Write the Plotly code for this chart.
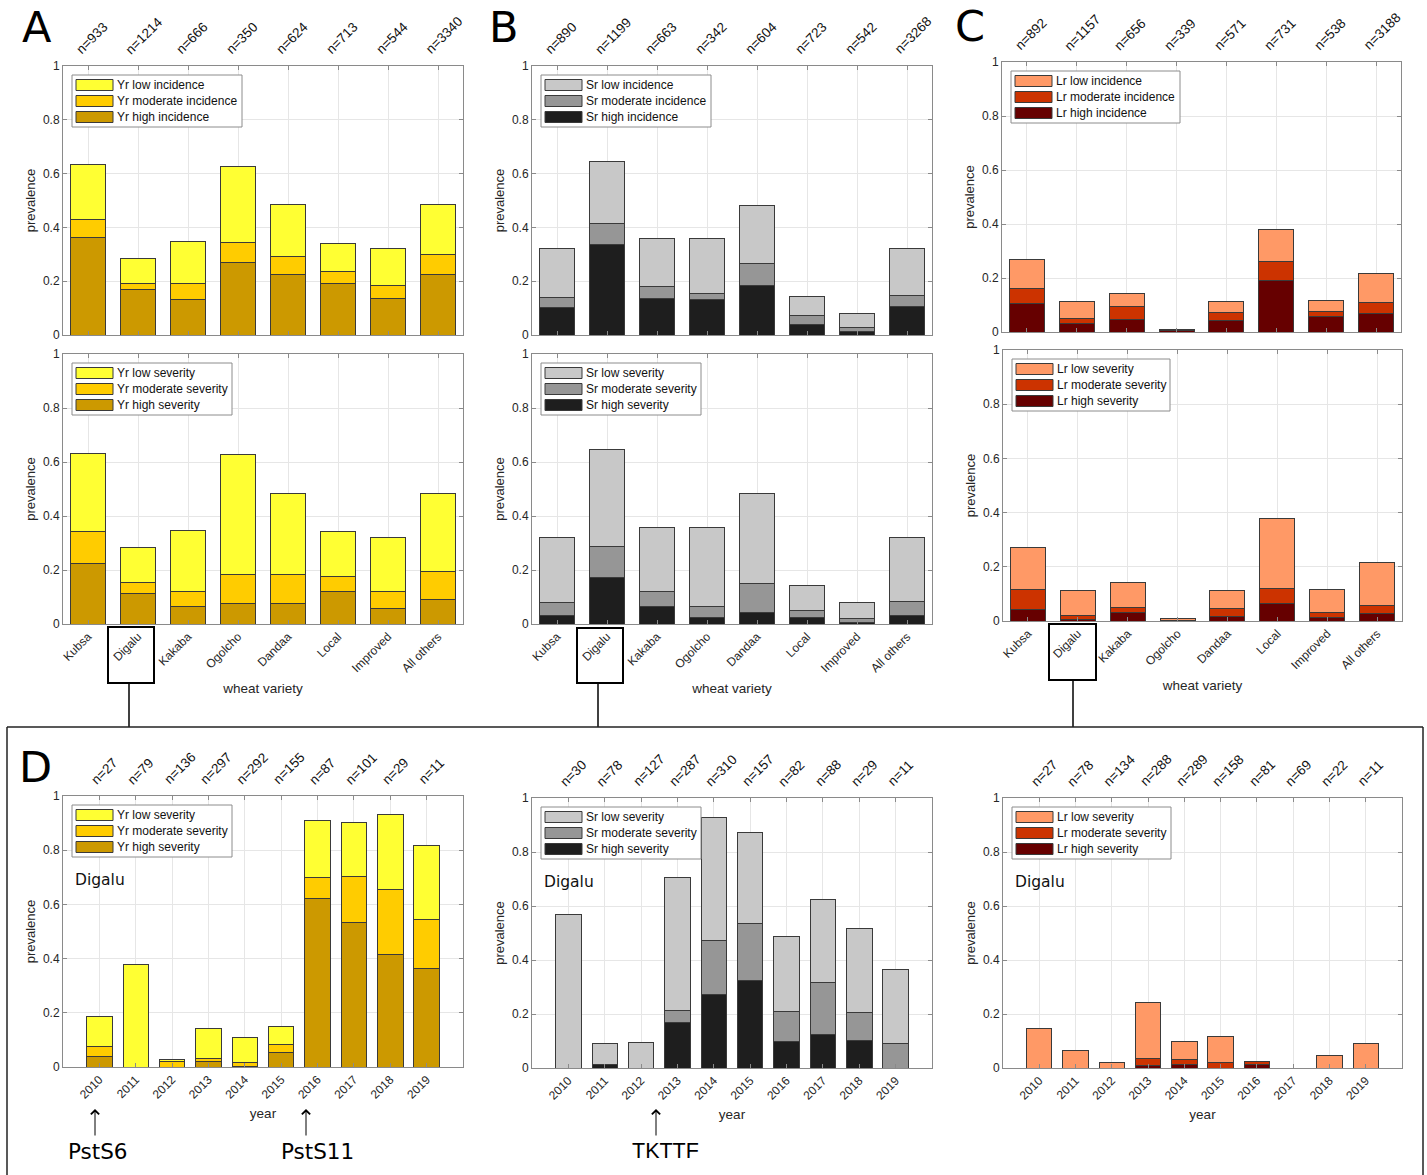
import plotly.graph_objects as go

W, H = 1427, 1175

# ---------------------------------------------------------------- data
varieties = ["Kubsa", "Digalu", "Kakaba", "Ogolcho", "Dandaa", "Local", "Improved", "All others"]
years = [2010, 2011, 2012, 2013, 2014, 2015, 2016, 2017, 2018, 2019]

# number of surveyed fields per variety
n_yr_var = [933, 1214, 666, 350, 624, 713, 544, 3340]
n_sr_var = [890, 1199, 663, 342, 604, 723, 542, 3268]
n_lr_var = [892, 1157, 656, 339, 571, 731, 538, 3188]

# number of surveyed Digalu fields per year
n_yr_dig = [27, 79, 136, 297, 292, 155, 87, 101, 29, 11]
n_sr_dig = [30, 78, 127, 287, 310, 157, 82, 88, 29, 11]
n_lr_dig = [27, 78, 134, 288, 289, 158, 81, 69, 22, 11]

# yellow rust prevalence by variety
yr_inc_high = [0.362, 0.170, 0.131, 0.271, 0.226, 0.191, 0.136, 0.226]
yr_inc_mod = [0.068, 0.022, 0.061, 0.072, 0.066, 0.046, 0.049, 0.075]
yr_inc_low = [0.203, 0.091, 0.154, 0.284, 0.193, 0.105, 0.137, 0.184]
yr_sev_high = [0.225, 0.114, 0.065, 0.077, 0.077, 0.121, 0.057, 0.091]
yr_sev_mod = [0.119, 0.040, 0.056, 0.108, 0.107, 0.054, 0.064, 0.105]
yr_sev_low = [0.289, 0.129, 0.225, 0.442, 0.301, 0.167, 0.201, 0.289]

# stem rust prevalence by variety
sr_inc_high = [0.102, 0.336, 0.135, 0.132, 0.185, 0.038, 0.014, 0.105]
sr_inc_mod = [0.038, 0.079, 0.045, 0.021, 0.082, 0.035, 0.014, 0.043]
sr_inc_low = [0.182, 0.231, 0.179, 0.206, 0.215, 0.071, 0.052, 0.172]
sr_sev_high = [0.030, 0.172, 0.064, 0.023, 0.042, 0.023, 0.007, 0.031]
sr_sev_mod = [0.049, 0.114, 0.055, 0.042, 0.107, 0.026, 0.014, 0.053]
sr_sev_low = [0.243, 0.360, 0.240, 0.294, 0.333, 0.095, 0.059, 0.236]

# leaf rust prevalence by variety
lr_inc_high = [0.105, 0.032, 0.047, 0.006, 0.044, 0.189, 0.059, 0.070]
lr_inc_mod = [0.055, 0.017, 0.049, 0.001, 0.028, 0.071, 0.016, 0.039]
lr_inc_low = [0.110, 0.064, 0.046, 0.002, 0.041, 0.120, 0.041, 0.107]
lr_sev_high = [0.044, 0.007, 0.031, 0.001, 0.016, 0.064, 0.014, 0.026]
lr_sev_mod = [0.073, 0.014, 0.017, 0.001, 0.030, 0.055, 0.019, 0.032]
lr_sev_low = [0.153, 0.092, 0.094, 0.007, 0.067, 0.261, 0.083, 0.158]

# Digalu severity prevalence by year
dig_yr_high = [0.037, 0.000, 0.000, 0.020, 0.003, 0.052, 0.621, 0.535, 0.414, 0.364]
dig_yr_mod = [0.037, 0.000, 0.022, 0.013, 0.014, 0.032, 0.080, 0.168, 0.241, 0.182]
dig_yr_low = [0.111, 0.380, 0.007, 0.108, 0.092, 0.065, 0.207, 0.198, 0.276, 0.273]

dig_sr_high = [0.000, 0.013, 0.000, 0.167, 0.271, 0.325, 0.098, 0.125, 0.103, 0.000]
dig_sr_mod = [0.000, 0.000, 0.000, 0.045, 0.203, 0.210, 0.110, 0.193, 0.103, 0.091]
dig_sr_low = [0.567, 0.077, 0.094, 0.495, 0.452, 0.338, 0.280, 0.307, 0.310, 0.273]

dig_lr_high = [0.000, 0.000, 0.000, 0.009, 0.012, 0.000, 0.012, 0.000, 0.000, 0.000]
dig_lr_mod = [0.000, 0.000, 0.000, 0.026, 0.020, 0.020, 0.013, 0.000, 0.000, 0.000]
dig_lr_low = [0.148, 0.064, 0.022, 0.208, 0.066, 0.095, 0.000, 0.000, 0.045, 0.091]

# ---------------------------------------------------------------- styling
YR_COL = ["#CC9900", "#FFCC00", "#FFFF33"]   # high, moderate, low
SR_COL = ["#1E1E1E", "#969696", "#C8C8C8"]
LR_COL = ["#660000", "#CC3300", "#FF9966"]

FONT = "Liberation Sans, Arial, Helvetica, sans-serif"
VERD = "DejaVu Sans, Verdana, sans-serif"
TXT = "#262626"
AXC = "#8a8a8a"
GRID = "#e6e6e6"
EDGE = "#3a3a3a"


def fx(p):
    return p / W


def fy(p):
    return 1 - p / H


def seg_names(prefix, kind):
    return [f"{prefix} high {kind}", f"{prefix} moderate {kind}", f"{prefix} low {kind}"]


panels = [
    dict(box=(63, 66, 463, 335), x=varieties, segs=(yr_inc_high, yr_inc_mod, yr_inc_low),
         cols=YR_COL, names=seg_names("Yr", "incidence"), n=n_yr_var, xlabels=False, xtitle=None, lw=170),
    dict(box=(63, 354, 463, 624), x=varieties, segs=(yr_sev_high, yr_sev_mod, yr_sev_low),
         cols=YR_COL, names=seg_names("Yr", "severity"), n=None, xlabels=True, xtitle="wheat variety", lw=160),
    dict(box=(532, 66, 932, 335), x=varieties, segs=(sr_inc_high, sr_inc_mod, sr_inc_low),
         cols=SR_COL, names=seg_names("Sr", "incidence"), n=n_sr_var, xlabels=False, xtitle=None, lw=170),
    dict(box=(532, 354, 932, 624), x=varieties, segs=(sr_sev_high, sr_sev_mod, sr_sev_low),
         cols=SR_COL, names=seg_names("Sr", "severity"), n=None, xlabels=True, xtitle="wheat variety", lw=160),
    dict(box=(1002, 62, 1401, 332), x=varieties, segs=(lr_inc_high, lr_inc_mod, lr_inc_low),
         cols=LR_COL, names=seg_names("Lr", "incidence"), n=n_lr_var, xlabels=False, xtitle=None, lw=169),
    dict(box=(1003, 350, 1402, 621), x=varieties, segs=(lr_sev_high, lr_sev_mod, lr_sev_low),
         cols=LR_COL, names=seg_names("Lr", "severity"), n=None, xlabels=True, xtitle="wheat variety", lw=158),
    dict(box=(63, 796, 463, 1067), x=years, segs=(dig_yr_high, dig_yr_mod, dig_yr_low),
         cols=YR_COL, names=seg_names("Yr", "severity"), n=n_yr_dig, xlabels=True, xtitle="year", lw=160),
    dict(box=(532, 798, 932, 1068), x=years, segs=(dig_sr_high, dig_sr_mod, dig_sr_low),
         cols=SR_COL, names=seg_names("Sr", "severity"), n=n_sr_dig, xlabels=True, xtitle="year", lw=160),
    dict(box=(1003, 798, 1402, 1068), x=years, segs=(dig_lr_high, dig_lr_mod, dig_lr_low),
         cols=LR_COL, names=seg_names("Lr", "severity"), n=n_lr_dig, xlabels=True, xtitle="year", lw=159),
]

fig = go.Figure()
shapes, annos = [], []
layout = dict(
    width=W, height=H, autosize=False,
    margin=dict(l=0, r=0, t=0, b=0, pad=0),
    paper_bgcolor="white", plot_bgcolor="white",
    barmode="stack", showlegend=False,
    font=dict(family=FONT, size=12, color=TXT),
)

for i, p in enumerate(panels, start=1):
    sfx = "" if i == 1 else str(i)
    x0, y0, x1, y1 = p["box"]
    is_year = p["x"] is years

    # stacked bars: high at the bottom, then moderate, then low
    for vals, col, name in zip(p["segs"], p["cols"], p["names"]):
        fig.add_trace(go.Bar(
            x=p["x"], y=vals, name=name, width=0.7,
            marker=dict(color=col, line=dict(color=EDGE, width=1)),
            xaxis="x" + sfx, yaxis="y" + sfx, showlegend=False,
        ))

    xa = dict(
        domain=[fx(x0), fx(x1)], anchor="y" + sfx, automargin=False,
        showline=True, linecolor=AXC, linewidth=1, mirror="ticks",
        ticks="inside", ticklen=4, tickcolor=AXC,
        showgrid=True, gridcolor=GRID, gridwidth=1, zeroline=False,
        tickfont=dict(family=FONT, size=12, color=TXT),
        tickangle=-45, showticklabels=p["xlabels"],
    )
    if is_year:
        xa.update(range=[2009, 2020], tickvals=years, ticktext=[str(y) for y in years])
    else:
        xa.update(type="category", range=[-0.5, 7.5])
    if p["xtitle"]:
        xa["title"] = dict(text=p["xtitle"], font=dict(family=FONT, size=13.5, color=TXT),
                           standoff=7 if is_year else 9)

    ya = dict(
        domain=[fy(y1), fy(y0)], anchor="x" + sfx, range=[0, 1], automargin=False,
        tickvals=[0, 0.2, 0.4, 0.6, 0.8, 1],
        showline=True, linecolor=AXC, linewidth=1, mirror="ticks",
        ticks="inside", ticklen=4, tickcolor=AXC,
        showgrid=True, gridcolor=GRID, gridwidth=1, zeroline=False,
        tickfont=dict(family=FONT, size=12, color=TXT),
        title=dict(text="prevalence", font=dict(family=FONT, size=13, color=TXT), standoff=4),
    )
    layout["xaxis" + sfx] = xa
    layout["yaxis" + sfx] = ya

    # sample sizes along the top edge
    if p["n"] is not None:
        for xv, nv in zip(p["x"], p["n"]):
            annos.append(dict(
                x=xv, y=1, xref="x" + sfx, yref=f"y{sfx} domain",
                text=f"n={nv}", textangle=-45, showarrow=False,
                xanchor="left", yanchor="bottom",
                xshift=-14 if is_year else -18, yshift=6,
                font=dict(family=FONT, size=13.5, color="#111111"),
            ))

    # legend box in the upper left corner
    lx0, ly0 = x0 + 9, y0 + 9
    lx1, ly1 = lx0 + p["lw"], ly0 + 52
    shapes.append(dict(type="rect", xref="paper", yref="paper",
                       x0=fx(lx0), x1=fx(lx1), y0=fy(ly1), y1=fy(ly0),
                       line=dict(color="#8c8c8c", width=1), fillcolor="white"))
    rows = list(zip(p["names"], p["cols"]))[::-1]
    for r, (name, col) in enumerate(rows):
        cy = ly0 + 10 + 16 * r
        shapes.append(dict(type="rect", xref="paper", yref="paper",
                           x0=fx(lx0 + 4), x1=fx(lx0 + 41), y0=fy(cy + 5.5), y1=fy(cy - 5.5),
                           line=dict(color=EDGE, width=1), fillcolor=col))
        annos.append(dict(x=fx(lx0 + 43), y=fy(cy), xref="paper", yref="paper",
                          text=name, showarrow=False, xanchor="left", yanchor="middle",
                          font=dict(family=FONT, size=12, color="#111111")))

    if is_year:
        annos.append(dict(x=fx(x0 + 10), y=fy(y0 + 84), xref="paper", yref="paper",
                          text="Digalu", showarrow=False, xanchor="left", yanchor="middle",
                          font=dict(family=VERD, size=15.5, color="#111111")))

# panel letters (anchored by the top of their text box)
for letter, (px, py) in zip("ABCD", [(37, 1), (504, 1), (970, 0.5), (35, 741)]):
    annos.append(dict(x=fx(px), y=fy(py), xref="paper", yref="paper", text=letter,
                      showarrow=False, xanchor="center", yanchor="top", borderpad=0,
                      font=dict(family=VERD, size=43, color="black")))

# race / pathotype markers under the Digalu year axes
for tx, ax_x, label, fam in [(98, 95, "PstS6", VERD), (317, 306, "PstS11", VERD), (665, 656, "TKTTF", FONT)]:
    annos.append(dict(x=fx(ax_x), y=fy(1109), xref="paper", yref="paper", text="",
                      showarrow=True, ax=0, ay=28, arrowhead=4, arrowsize=1.6,
                      arrowwidth=1, arrowcolor="black"))
    annos.append(dict(x=fx(tx), y=fy(1151), xref="paper", yref="paper", text=label,
                      showarrow=False, xanchor="center", yanchor="middle",
                      font=dict(family=fam, size=21.5, color="black")))

# Digalu highlight boxes and connectors to the lower frame
for bx0, by0, bx1, by1, cx in [(108, 627, 154, 683, 129), (577, 628, 623, 683, 598), (1049, 624, 1096, 680, 1073)]:
    shapes.append(dict(type="rect", xref="paper", yref="paper",
                       x0=fx(bx0), x1=fx(bx1), y0=fy(by1), y1=fy(by0),
                       line=dict(color="black", width=2)))
    shapes.append(dict(type="line", xref="paper", yref="paper",
                       x0=fx(cx), x1=fx(cx), y0=fy(by1), y1=fy(727),
                       line=dict(color="black", width=1.5)))

# frame around panel D
for (ax0, ay0, ax1, ay1) in [(7, 727, 1423, 727), (7, 727, 7, 1176), (1423, 727, 1423, 1176)]:
    shapes.append(dict(type="line", xref="paper", yref="paper",
                       x0=fx(ax0), x1=fx(ax1), y0=fy(ay0), y1=fy(ay1),
                       line=dict(color="#222222", width=1.5)))

layout["shapes"] = shapes
layout["annotations"] = annos
fig.update_layout(**layout)
fig.write_html("out.html")
